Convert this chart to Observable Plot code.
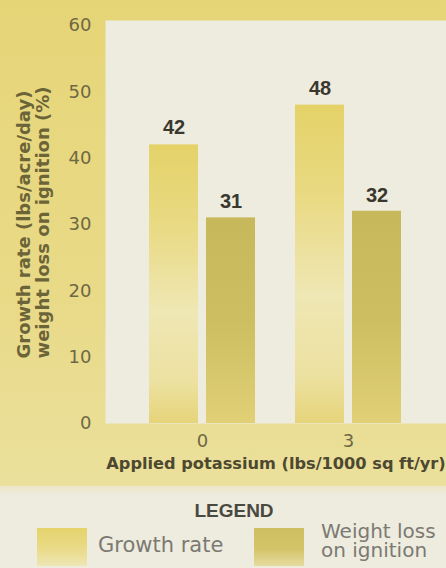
<!DOCTYPE html>
<html>
<head>
<meta charset="utf-8">
<script src="https://cdn.jsdelivr.net/npm/d3@7"></script>
<script src="https://cdn.jsdelivr.net/npm/@observablehq/plot@0.6"></script>
<style>
  html, body { margin: 0; padding: 0; }
  body {
    width: 446px; height: 568px; overflow: hidden;
    background: linear-gradient(to bottom, #e6d577 0px, #e9da88 300px, #ebe09c 486px, #ebe09c 568px);
    font-family: "DejaVu Sans", sans-serif;
  }
  #chart svg { display: block; }
  #legend {
    position: relative; width: 446px; height: 82px;
    background: linear-gradient(to bottom, #ece6c8 0px, #eeebdf 10px, #eeebdf 82px);
  }
  #legend .title {
    position: absolute; left: 0; width: 468px; top: 15px; text-align: center;
    font-family: "Liberation Sans", Arial, sans-serif;
    font-size: 19px; line-height: 19px; font-weight: 700; color: #4a4940;
  }
  #legend .sw { position: absolute; width: 50px; height: 38px; }
  #legend .lab { position: absolute; color: #7b7a72; font-weight: 400; font-family: "DejaVu Sans", sans-serif; }
</style>
</head>
<body>
<div id="chart"></div>
<div id="legend"></div>
<script>
const potassium = ["0", "3"];
const growthRate = [42, 48];
const weightLoss = [31, 32];
const yTicks = [0, 10, 20, 30, 40, 50, 60];
const xLabel = "Applied potassium (lbs/1000 sq ft/yr)";
const yLabel = "Growth rate (lbs/acre/day)\nweight loss on ignition (%)";
const legendTitle = "LEGEND";
const seriesNames = ["Growth rate", "Weight loss\non ignition"];

const growthData = potassium.map((k, i) => ({k, v: growthRate[i]}));
const weightData = potassium.map((k, i) => ({k, v: weightLoss[i]}));

const NS = "http://www.w3.org/2000/svg";
function gradientDefs() {
  const defs = document.createElementNS(NS, "defs");
  const grads = [
    ["gradGrowth", [[0, "#e4d268"], [0.3, "#e9da84"], [0.6, "#efe7b4"], [0.85, "#ece1a0"], [1, "#e6d47a"]]],
    ["gradWeight", [[0, "#c7b85b"], [0.5, "#cdbe62"], [1, "#e1d075"]]]
  ];
  for (const [id, stops] of grads) {
    const g = document.createElementNS(NS, "linearGradient");
    g.setAttribute("id", id);
    g.setAttribute("x1", "0"); g.setAttribute("y1", "0");
    g.setAttribute("x2", "0"); g.setAttribute("y2", "1");
    for (const [o, c] of stops) {
      const s = document.createElementNS(NS, "stop");
      s.setAttribute("offset", o);
      s.setAttribute("stop-color", c);
      g.appendChild(s);
    }
    defs.appendChild(g);
  }
  const grp = document.createElementNS(NS, "g");
  grp.appendChild(defs);
  return grp;
}

const chart = Plot.plot({
  width: 446,
  height: 486,
  marginTop: 20,
  marginBottom: 63,
  marginLeft: 105,
  marginRight: 0,
  style: {background: "transparent", fontFamily: "'DejaVu Sans', sans-serif", fontSize: "18px", color: "#6e6844", overflow: "visible"},
  x: {domain: potassium, range: [149, 401], paddingInner: 0.274, paddingOuter: 0, tickSize: 0, tickPadding: 11, label: null},
  y: {domain: [0, 60], range: [423, 25], ticks: yTicks, tickSize: 0, tickPadding: 14, label: null},
  marks: [
    gradientDefs,
    Plot.frame({fill: "#eeebdf", stroke: "none"}),
    Plot.barY(growthData, {x: "k", y: "v", fill: "url(#gradGrowth)", insetRight: 57}),
    Plot.barY(weightData, {x: "k", y: "v", fill: "url(#gradWeight)", insetLeft: 57}),
    Plot.text(growthData, {x: "k", y: "v", text: d => String(d.v), dx: -28.5, dy: -17, lineAnchor: "middle",
      fontFamily: "Liberation Sans, Arial, sans-serif", fontWeight: 700, fontSize: 20, fill: "#3a382e"}),
    Plot.text(weightData, {x: "k", y: "v", text: d => String(d.v), dx: 28.5, dy: -16, lineAnchor: "middle",
      fontFamily: "Liberation Sans, Arial, sans-serif", fontWeight: 700, fontSize: 20, fill: "#3a382e"}),
    Plot.text([yLabel], {frameAnchor: "bottom-left", dx: -72, dy: -65, rotate: -90, textAnchor: "start",
      lineAnchor: "middle", lineHeight: 1.05, fontSize: 18, fontWeight: 700, fill: "#6b6438"}),
    Plot.text([xLabel], {frameAnchor: "bottom", dy: 40, lineAnchor: "middle", fontSize: 16.2, fontWeight: 700, fill: "#4d4830"})
  ]
});
document.getElementById("chart").appendChild(chart);

// Legend (HTML, below the SVG)
const legend = document.getElementById("legend");
const t = document.createElement("div");
t.className = "title";
t.textContent = legendTitle;
legend.appendChild(t);

const swatches = [
  {left: 37, top: 42, bg: "linear-gradient(to bottom, #e5d36c 0%, #e9db88 55%, #eee6b6 100%)"},
  {left: 254, top: 42, bg: "linear-gradient(to bottom, #cdbf62 0%, #d3c467 55%, #e6dba0 100%)"}
];
swatches.forEach((s) => {
  const d = document.createElement("div");
  d.className = "sw";
  d.style.left = s.left + "px";
  d.style.top = s.top + "px";
  d.style.background = s.bg;
  legend.appendChild(d);
});
const lab1 = document.createElement("div");
lab1.className = "lab";
lab1.style.left = "98px"; lab1.style.top = "49px";
lab1.style.fontSize = "21px"; lab1.style.lineHeight = "21px";
lab1.textContent = seriesNames[0];
legend.appendChild(lab1);

const lab2 = document.createElement("div");
lab2.className = "lab";
lab2.style.left = "321px"; lab2.style.top = "36px";
lab2.style.fontSize = "20px"; lab2.style.lineHeight = "19px";
lab2.style.whiteSpace = "pre";
lab2.textContent = seriesNames[1];
legend.appendChild(lab2);
</script>
</body>
</html>
